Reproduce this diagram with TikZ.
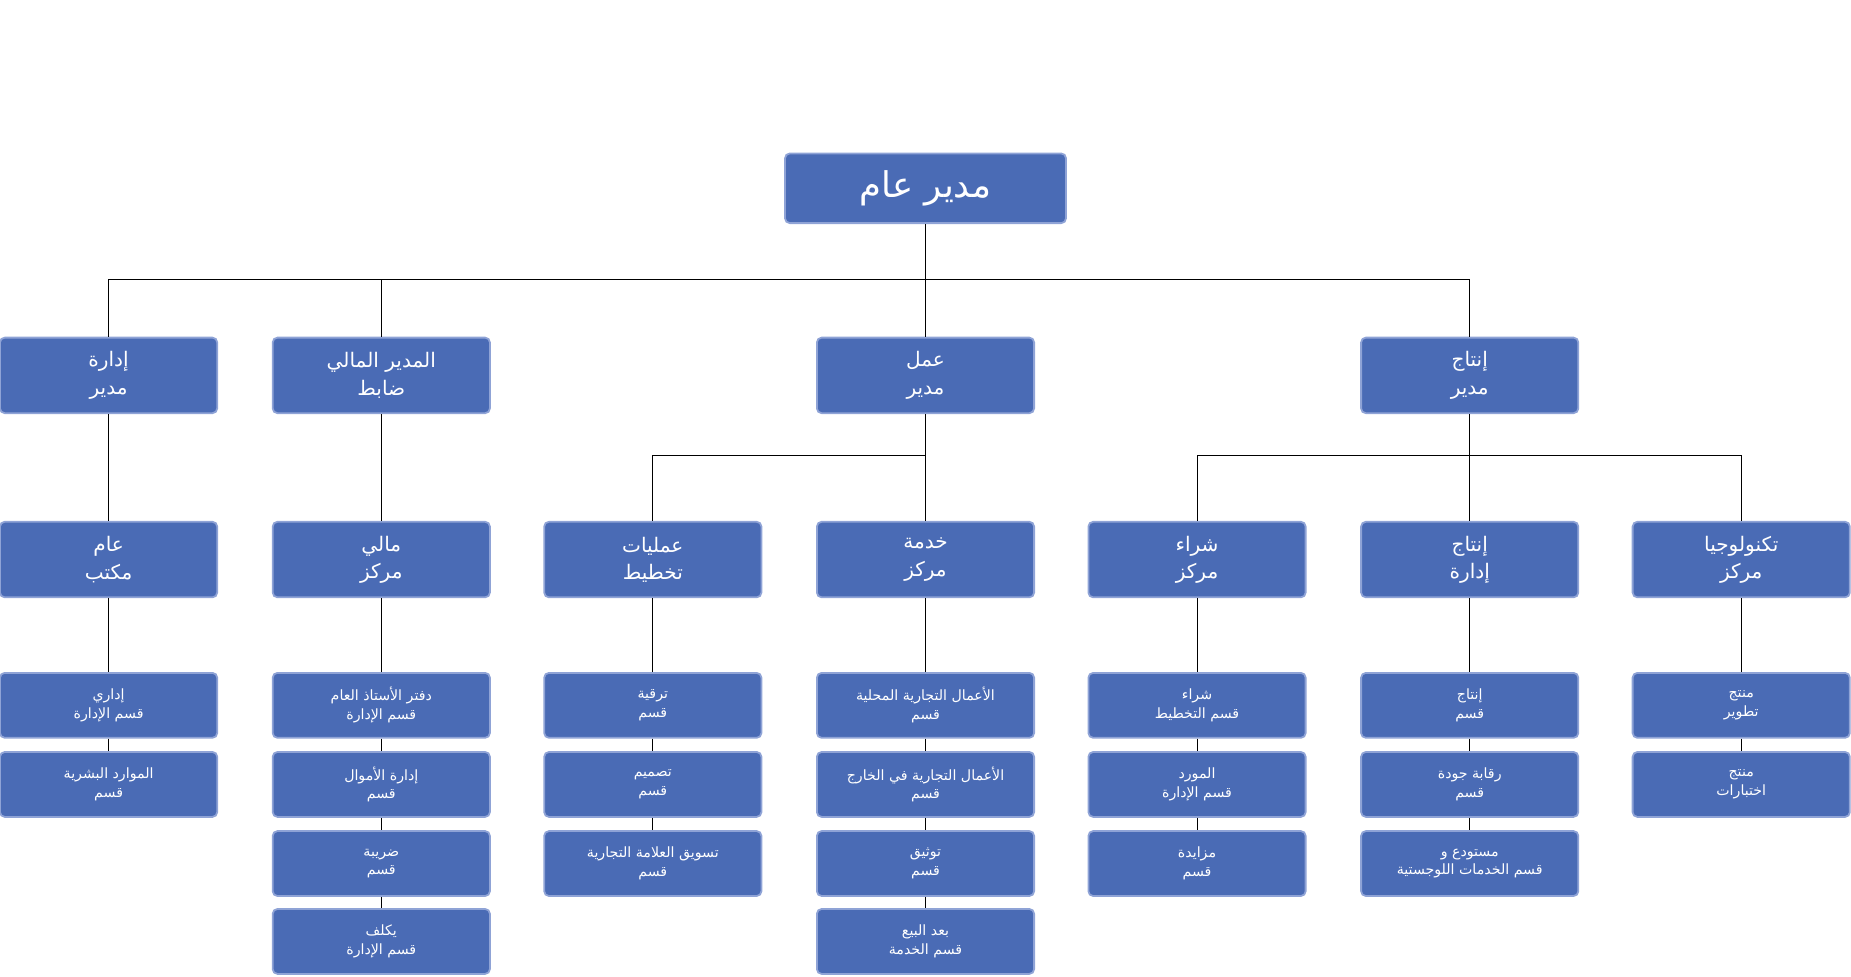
\documentclass[tikz,border=0pt]{standalone}
\usepackage{fontspec}
\TeXXeTstate=1
\newfontfamily\arabicfont[Script=Arabic]{DejaVu Sans}
\newcommand{\AR}[1]{\beginR #1\endR}
\definecolor{boxfill}{HTML}{4A6BB5}
\definecolor{boxline}{HTML}{8FA3D6}
\tikzset{
 base/.style={draw=boxline,line width=1.5pt,fill=boxfill,rounded corners=4pt,text=white,align=center,font=\arabicfont,inner sep=1pt},
 top/.style={base,minimum width=238pt,minimum height=59pt,font=\arabicfont\fontsize{30}{34}\selectfont},
 mid/.style={base,minimum width=184pt,minimum height=64pt,font=\arabicfont\fontsize{17}{23}\selectfont},
 low/.style={base,minimum width=184pt,minimum height=55pt,font=\arabicfont\fontsize{12}{16}\selectfont},
 conn/.style={draw=black,line width=0.8pt}
}
\begin{document}
\begin{tikzpicture}[x=1pt,y=-1pt]
\useasboundingbox (0,0) rectangle (1568,827);
% connectors first
\coordinate (b0) at (784,237);
\node[top] (g) at (784,159.5) {\AR{مدير عام}};
\node[mid] (a1) at (92,318) {\AR{إدارة}\\\AR{مدير}};
\node[mid] (a2) at (323,318) {\AR{المدير المالي}\\\AR{ضابط}};
\node[mid] (a3) at (784,318) {\AR{عمل}\\\AR{مدير}};
\node[mid] (a4) at (1245,318) {\AR{إنتاج}\\\AR{مدير}};
\node[mid] (c1) at (92,474) {\AR{عام}\\\AR{مكتب}};
\node[mid] (c2) at (323,474) {\AR{مالي}\\\AR{مركز}};
\node[mid] (c3) at (553,474) {\AR{عمليات}\\\AR{تخطيط}};
\node[mid] (c4) at (784,474) {\AR{خدمة}\\\AR{مركز}};
\node[mid] (c5) at (1014,474) {\AR{شراء}\\\AR{مركز}};
\node[mid] (c6) at (1245,474) {\AR{إنتاج}\\\AR{إدارة}};
\node[mid] (c7) at (1475,474) {\AR{تكنولوجيا}\\\AR{مركز}};
% level 3
\def\ya{597.5}\def\yb{664.5}\def\yc{731.5}\def\yd{797.5}
\node[low] (d11) at (92,\ya) {\AR{إداري}\\\AR{قسم الإدارة}};
\node[low] (d12) at (92,\yb) {\AR{الموارد البشرية}\\\AR{قسم}};
\node[low] (d21) at (323,\ya) {\AR{دفتر الأستاذ العام}\\\AR{قسم الإدارة}};
\node[low] (d22) at (323,\yb) {\AR{إدارة الأموال}\\\AR{قسم}};
\node[low] (d23) at (323,\yc) {\AR{ضريبة}\\\AR{قسم}};
\node[low] (d24) at (323,\yd) {\AR{يكلف}\\\AR{قسم الإدارة}};
\node[low] (d31) at (553,\ya) {\AR{ترقية}\\\AR{قسم}};
\node[low] (d32) at (553,\yb) {\AR{تصميم}\\\AR{قسم}};
\node[low] (d33) at (553,\yc) {\AR{تسويق العلامة التجارية}\\\AR{قسم}};
\node[low] (d41) at (784,\ya) {\AR{الأعمال التجارية المحلية}\\\AR{قسم}};
\node[low] (d42) at (784,\yb) {\AR{الأعمال التجارية في الخارج}\\\AR{قسم}};
\node[low] (d43) at (784,\yc) {\AR{توثيق}\\\AR{قسم}};
\node[low] (d44) at (784,\yd) {\AR{بعد البيع}\\\AR{قسم الخدمة}};
\node[low] (d51) at (1014,\ya) {\AR{شراء}\\\AR{قسم التخطيط}};
\node[low] (d52) at (1014,\yb) {\AR{المورد}\\\AR{قسم الإدارة}};
\node[low] (d53) at (1014,\yc) {\AR{مزايدة}\\\AR{قسم}};
\node[low] (d61) at (1245,\ya) {\AR{إنتاج}\\\AR{قسم}};
\node[low] (d62) at (1245,\yb) {\AR{رقابة جودة}\\\AR{قسم}};
\node[low] (d63) at (1245,\yc) {\AR{مستودع و}\\\AR{قسم الخدمات اللوجستية}};
\node[low] (d71) at (1475,\ya) {\AR{منتج}\\\AR{تطوير}};
\node[low] (d72) at (1475,\yb) {\AR{منتج}\\\AR{اختبارات}};
% connectors
\begin{scope}[on background layer/.style={}]
\end{scope}
\draw[conn] (g.south) -- (b0);
\draw[conn] (a1.north) |- (b0) -| (a4.north);
\draw[conn] (a2.north) -- (a2.north |- b0);
\draw[conn] (b0) -- (a3.north);
\draw[conn] (a1) -- (c1); \draw[conn] (a2) -- (c2);
\coordinate (b3) at (784,386);
\draw[conn] (a3.south) -- (c4.north);
\draw[conn] (c3.north) |- (b3);
\coordinate (b4) at (1245,386);
\draw[conn] (a4.south) -- (c6.north);
\draw[conn] (c5.north) |- (b4) -| (c7.north);
\draw[conn] (c1) -- (d11); \draw[conn] (d11) -- (d12);
\draw[conn] (c2) -- (d21); \draw[conn] (d21) -- (d22); \draw[conn] (d22) -- (d23); \draw[conn] (d23) -- (d24);
\draw[conn] (c3) -- (d31); \draw[conn] (d31) -- (d32); \draw[conn] (d32) -- (d33);
\draw[conn] (c4) -- (d41); \draw[conn] (d41) -- (d42); \draw[conn] (d42) -- (d43); \draw[conn] (d43) -- (d44);
\draw[conn] (c5) -- (d51); \draw[conn] (d51) -- (d52); \draw[conn] (d52) -- (d53);
\draw[conn] (c6) -- (d61); \draw[conn] (d61) -- (d62); \draw[conn] (d62) -- (d63);
\draw[conn] (c7) -- (d71); \draw[conn] (d71) -- (d72);
\end{tikzpicture}
\end{document}
